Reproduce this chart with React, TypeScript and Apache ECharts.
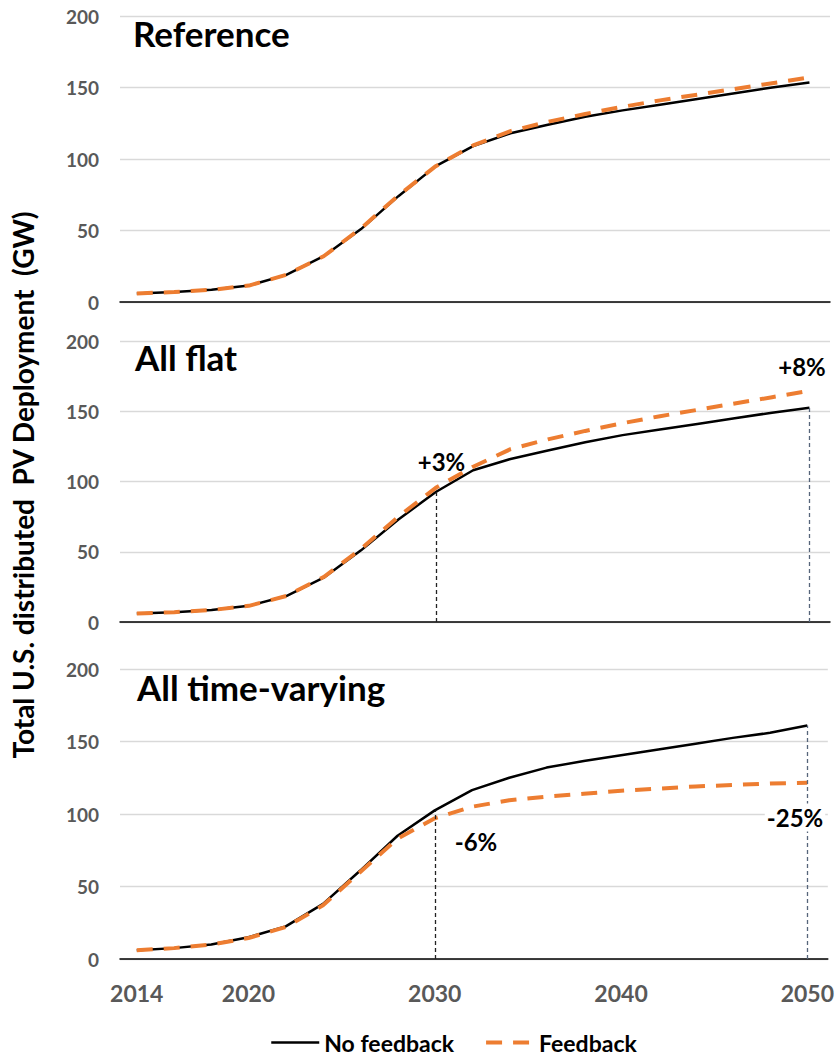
import React, { useEffect, useRef } from "react";
import * as echarts from "echarts";

const years = [2014, 2016, 2018, 2020, 2022, 2024, 2026, 2028, 2030, 2032, 2034, 2036, 2038, 2040, 2042, 2044, 2046, 2048, 2050];

const refNoFeedback = [6, 7, 8.5, 11.5, 19, 32, 51, 74, 95, 109, 118, 124, 129.5, 134, 138, 142, 146, 150, 153.5];
const refFeedback = [6, 7, 8.5, 11.5, 19, 32, 51.5, 74.5, 95, 109.5, 119.5, 126, 131.5, 136.5, 141, 145, 149, 153, 157];

const flatNoFeedback = [6, 7, 8.5, 11.5, 18.5, 31.5, 51, 73, 92.5, 108, 116, 122, 128, 133, 137, 141, 145, 149, 152.5];
const flatFeedback = [6, 7, 8.5, 11.5, 18.5, 32, 52, 75, 95.5, 110.5, 123, 130, 136, 141.5, 146.5, 151, 155.5, 160, 164.5];

const tvNoFeedback = [6, 7.5, 10, 15, 22.5, 38, 61, 85, 102.5, 116.5, 125, 132, 136.5, 140.5, 144.5, 148.5, 152.5, 156, 161];
const tvFeedback = [6, 7.5, 10, 14.5, 22, 37, 60, 83, 97, 105, 109.5, 112, 114, 116, 117.5, 119, 120, 121, 121.5];

const panelTitles = ["Reference", "All flat", "All time-varying"];
const xTickLabels = [2014, 2020, 2030, 2040, 2050];
const yTicks = [0, 50, 100, 150, 200];
const seriesNames = ["No feedback", "Feedback"];
const annotations = ["+3%", "+8%", "-6%", "-25%"];
const yTitle = "Total U.S. distributed  PV Deployment  (GW)";

const FONT = "Lato, 'Noto Sans', sans-serif";
const ORANGE = "#ED7D31";
const BLACK_LINE = { color: "#000", width: 2.5, type: "solid" };
const ORANGE_LINE = { color: ORANGE, width: 4, type: [16, 11] };

export default function App() {
  const ref = useRef<HTMLDivElement>(null);

  useEffect(() => {
    if (!ref.current) return;
    const chart = echarts.init(ref.current, undefined, { renderer: "svg" });

    const grids = [
      { left: 120, right: 7, top: 16, height: 286 },
      { left: 120, right: 7, top: 341, height: 281 },
      { left: 120, right: 7, top: 669, height: 290 },
    ];

    const xAxes = grids.map((_, i) => ({
      type: "value",
      gridIndex: i,
      min: 2013.1,
      max: 2051.1,
      axisLine: { show: true, onZero: false, lineStyle: { color: "#000", width: 1.5 } },
      axisTick: { show: false },
      splitLine: { show: false },
      axisLabel: {
        show: i === 2,
        customValues: xTickLabels,
        margin: 22,
        fontSize: 23,
        fontWeight: "bold",
        color: "#595959",
        fontFamily: FONT,
        formatter: (v: number) => String(Math.round(v)),
      },
    }));

    const yAxes = grids.map((_, i) => ({
      type: "value",
      gridIndex: i,
      min: yTicks[0],
      max: yTicks[yTicks.length - 1],
      interval: 50,
      axisLine: { show: false },
      axisTick: { show: false },
      splitLine: { show: true, lineStyle: { color: "#d9d9d9", width: 1.3 } },
      axisLabel: {
        margin: 21,
        fontSize: 19,
        fontWeight: "bold",
        color: "#595959",
        fontFamily: FONT,
      },
    }));

    const pairs = (vals: number[]) => years.map((y, k) => [y, vals[k]]);
    const dashStyle = (color: string) => ({ color, width: 1.3, type: [4, 3] });

    const panelData = [
      [refNoFeedback, refFeedback],
      [flatNoFeedback, flatFeedback],
      [tvNoFeedback, tvFeedback],
    ];

    const idx2030 = years.indexOf(2030);
    const idx2050 = years.indexOf(2050);

    const series: any[] = [];
    panelData.forEach(([noFb, fb], i) => {
      const black: any = {
        name: seriesNames[0],
        type: "line",
        xAxisIndex: i,
        yAxisIndex: i,
        data: pairs(noFb),
        symbol: "none",
        z: 3,
        lineStyle: BLACK_LINE,
        itemStyle: { color: "#000" },
      };
      if (i > 0) {
        black.markLine = {
          silent: true,
          symbol: ["none", "none"],
          label: { show: false },
          data: [
            [
              { coord: [2030, 0], lineStyle: dashStyle("#222") },
              { coord: [2030, noFb[idx2030]] },
            ],
            [
              { coord: [2050, 0], lineStyle: dashStyle("#56657a") },
              { coord: [2050, noFb[idx2050]] },
            ],
          ],
        };
      }
      series.push(black);
      series.push({
        name: seriesNames[1],
        type: "line",
        xAxisIndex: i,
        yAxisIndex: i,
        data: pairs(fb),
        symbol: "none",
        z: 4,
        lineStyle: ORANGE_LINE,
        itemStyle: { color: ORANGE },
      });
    });

    const titleStyle = (text: string) => ({
      text,
      fill: "#000",
      font: `bold 35px ${FONT}`,
      verticalAlign: "middle",
      align: "left",
    });
    const annStyle = (text: string, bg?: string) => ({
      text,
      fill: "#000",
      font: `bold 24px ${FONT}`,
      verticalAlign: "middle",
      align: "center",
      ...(bg ? { backgroundColor: bg, padding: [2, 2] } : {}),
    });

    const graphic: any[] = [
      { type: "text", x: 133, y: 33, style: titleStyle(panelTitles[0]) },
      { type: "text", x: 135, y: 357, style: titleStyle(panelTitles[1]) },
      { type: "text", x: 137, y: 687, style: titleStyle(panelTitles[2]) },
      { type: "text", x: 441.5, y: 461.5, z: 10, style: annStyle(annotations[0]) },
      { type: "text", x: 802, y: 366.5, z: 10, style: annStyle(annotations[1]) },
      { type: "text", x: 476, y: 841, z: 10, style: annStyle(annotations[2]) },
      { type: "text", x: 795, y: 817.5, z: 10, style: annStyle(annotations[3], "#fff") },
      {
        type: "text",
        x: 23,
        y: 485,
        rotation: Math.PI / 2,
        style: {
          text: yTitle,
          fill: "#000",
          font: `bold 28px ${FONT}`,
          verticalAlign: "middle",
          align: "center",
        },
      },
    ];

    chart.setOption({
      animation: false,
      textStyle: { fontFamily: FONT },
      grid: grids,
      xAxis: xAxes,
      yAxis: yAxes,
      series,
      graphic,
      legend: {
        data: [
          { name: seriesNames[0], lineStyle: BLACK_LINE, itemStyle: { opacity: 0 } },
          { name: seriesNames[1], lineStyle: ORANGE_LINE, itemStyle: { opacity: 0 } },
        ],
        left: 265,
        top: 1026,
        itemWidth: 48,
        itemHeight: 20,
        itemGap: 30,
        itemStyle: { opacity: 0 },
        textStyle: { fontSize: 23, fontWeight: "bold", color: "#000", fontFamily: FONT },
      },
    });

    return () => chart.dispose();
  }, []);

  return (
    <div
      ref={ref}
      style={{ position: "fixed", left: 0, top: 0, width: 837, height: 1057, background: "#fff" }}
    />
  );
}
